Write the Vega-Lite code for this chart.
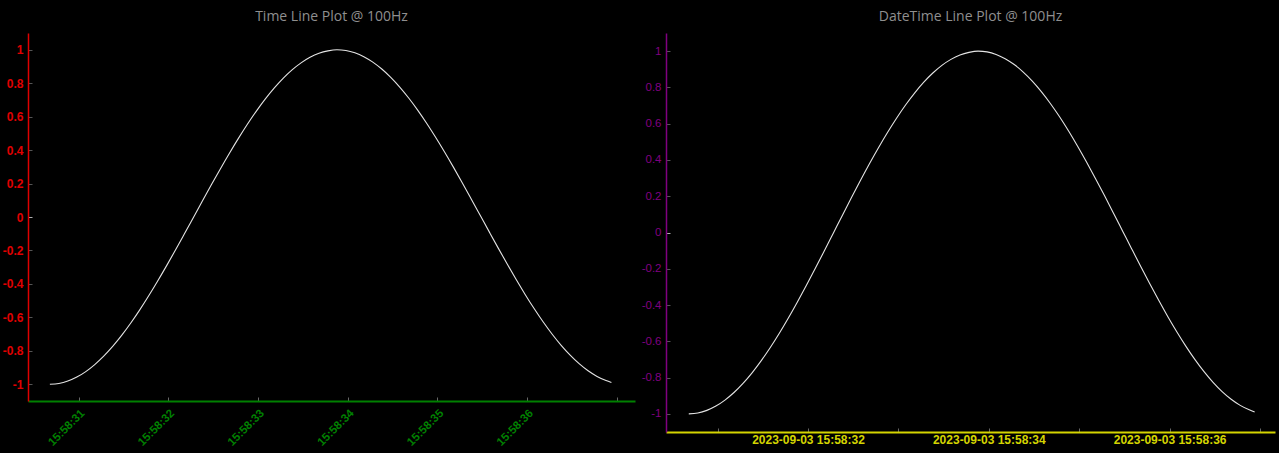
{
  "$schema": "https://vega.github.io/schema/vega-lite/v6.json",
  "background": "black",
  "padding": {"left": 2, "top": 10, "right": 4, "bottom": 5},
  "spacing": 6,
  "config": {
    "view": {"stroke": null},
    "font": "Liberation Sans",
    "title": {"color": "#8f8f8f", "fontSize": 14, "fontWeight": "normal", "font": "Open Sans", "offset": 9, "anchor": "middle"}
  },
  "datasets": {
    "wave": [
      {"time": "2023-09-03T15:58:30.681", "value": -1.0},
      {"time": "2023-09-03T15:58:30.781", "value": -0.9952},
      {"time": "2023-09-03T15:58:30.881", "value": -0.9808},
      {"time": "2023-09-03T15:58:30.981", "value": -0.9571},
      {"time": "2023-09-03T15:58:31.081", "value": -0.9241},
      {"time": "2023-09-03T15:58:31.181", "value": -0.8823},
      {"time": "2023-09-03T15:58:31.281", "value": -0.832},
      {"time": "2023-09-03T15:58:31.381", "value": -0.7737},
      {"time": "2023-09-03T15:58:31.481", "value": -0.708},
      {"time": "2023-09-03T15:58:31.581", "value": -0.6354},
      {"time": "2023-09-03T15:58:31.681", "value": -0.5567},
      {"time": "2023-09-03T15:58:31.781", "value": -0.4726},
      {"time": "2023-09-03T15:58:31.881", "value": -0.3841},
      {"time": "2023-09-03T15:58:31.981", "value": -0.2921},
      {"time": "2023-09-03T15:58:32.081", "value": -0.1974},
      {"time": "2023-09-03T15:58:32.181", "value": -0.1003},
      {"time": "2023-09-03T15:58:32.281", "value": -0.0025},
      {"time": "2023-09-03T15:58:32.381", "value": 0.0954},
      {"time": "2023-09-03T15:58:32.481", "value": 0.1924},
      {"time": "2023-09-03T15:58:32.581", "value": 0.2875},
      {"time": "2023-09-03T15:58:32.681", "value": 0.3799},
      {"time": "2023-09-03T15:58:32.781", "value": 0.4686},
      {"time": "2023-09-03T15:58:32.881", "value": 0.5527},
      {"time": "2023-09-03T15:58:32.981", "value": 0.6315},
      {"time": "2023-09-03T15:58:33.081", "value": 0.7043},
      {"time": "2023-09-03T15:58:33.181", "value": 0.7702},
      {"time": "2023-09-03T15:58:33.281", "value": 0.8288},
      {"time": "2023-09-03T15:58:33.381", "value": 0.8793},
      {"time": "2023-09-03T15:58:33.481", "value": 0.9214},
      {"time": "2023-09-03T15:58:33.581", "value": 0.9546},
      {"time": "2023-09-03T15:58:33.681", "value": 0.9786},
      {"time": "2023-09-03T15:58:33.781", "value": 0.9931},
      {"time": "2023-09-03T15:58:33.881", "value": 1.0},
      {"time": "2023-09-03T15:58:33.981", "value": 0.9957},
      {"time": "2023-09-03T15:58:34.081", "value": 0.9818},
      {"time": "2023-09-03T15:58:34.181", "value": 0.9585},
      {"time": "2023-09-03T15:58:34.281", "value": 0.926},
      {"time": "2023-09-03T15:58:34.381", "value": 0.8846},
      {"time": "2023-09-03T15:58:34.481", "value": 0.8347},
      {"time": "2023-09-03T15:58:34.581", "value": 0.7768},
      {"time": "2023-09-03T15:58:34.681", "value": 0.7114},
      {"time": "2023-09-03T15:58:34.781", "value": 0.6393},
      {"time": "2023-09-03T15:58:34.881", "value": 0.5608},
      {"time": "2023-09-03T15:58:34.981", "value": 0.477},
      {"time": "2023-09-03T15:58:35.081", "value": 0.3887},
      {"time": "2023-09-03T15:58:35.181", "value": 0.2968},
      {"time": "2023-09-03T15:58:35.281", "value": 0.2022},
      {"time": "2023-09-03T15:58:35.381", "value": 0.1052},
      {"time": "2023-09-03T15:58:35.481", "value": 0.0074},
      {"time": "2023-09-03T15:58:35.581", "value": -0.0905},
      {"time": "2023-09-03T15:58:35.681", "value": -0.1876},
      {"time": "2023-09-03T15:58:35.781", "value": -0.2828},
      {"time": "2023-09-03T15:58:35.881", "value": -0.3753},
      {"time": "2023-09-03T15:58:35.981", "value": -0.4643},
      {"time": "2023-09-03T15:58:36.081", "value": -0.5486},
      {"time": "2023-09-03T15:58:36.181", "value": -0.6278},
      {"time": "2023-09-03T15:58:36.281", "value": -0.7008},
      {"time": "2023-09-03T15:58:36.381", "value": -0.7671},
      {"time": "2023-09-03T15:58:36.481", "value": -0.826},
      {"time": "2023-09-03T15:58:36.581", "value": -0.877},
      {"time": "2023-09-03T15:58:36.681", "value": -0.9195},
      {"time": "2023-09-03T15:58:36.781", "value": -0.9531},
      {"time": "2023-09-03T15:58:36.881", "value": -0.9776},
      {"time": "2023-09-03T15:58:36.941", "value": -0.9892}
    ]
  },
  "hconcat": [
    {
      "width": 607,
      "height": 368,
      "title": {"text": "Time Line Plot @ 100Hz"},
      "data": {"name": "wave"},
      "mark": {"type": "line", "color": "#e4e4e4", "strokeWidth": 1.1, "interpolate": "monotone", "clip": true},
      "encoding": {
        "x": {
          "field": "time", "type": "temporal",
          "scale": {"domain": ["2023-09-03T15:58:30.437", "2023-09-03T15:58:37.204"]},
          "axis": {
            "title": null, "grid": false,
            "values": ["2023-09-03T15:58:31", "2023-09-03T15:58:32", "2023-09-03T15:58:33", "2023-09-03T15:58:34", "2023-09-03T15:58:35", "2023-09-03T15:58:36", "2023-09-03T15:58:37"],
            "domainColor": "#008000", "domainWidth": 2,
            "tickColor": "#666666", "tickSize": -4, "tickWidth": 1,
            "labelColor": "#008000", "labelFontSize": 11.5, "labelFontWeight": "bold", "labelAngle": -45,
            "labelAlign": "right", "labelBaseline": "top", "labelPadding": 10,
            "labelOverlap": false, "labelFlush": false,
            "format": "%H:%M:%S",
            "labelExpr": "seconds(datum.value) >= 37 ? '' : datum.label"
          }
        },
        "y": {
          "field": "value", "type": "quantitative",
          "scale": {"domain": [-1.1, 1.1], "nice": false, "zero": false},
          "axis": {
            "title": null, "grid": false,
            "values": [-1, -0.8, -0.6, -0.4, -0.2, 0, 0.2, 0.4, 0.6, 0.8, 1],
            "domainColor": "#e00000", "domainWidth": 1.5,
            "tickColor": {"condition": {"test": "datum.value == 0", "value": "#b0b0b0"}, "value": "#555555"},
            "tickSize": -4, "tickWidth": 1,
            "labelColor": "#e00000", "labelFontSize": 12, "labelFontWeight": "bold", "labelPadding": 9,
            "labelExpr": "'' + datum.value"
          }
        }
      }
    },
    {
      "width": 609,
      "height": 399,
      "title": {"text": "DateTime Line Plot @ 100Hz"},
      "data": {"name": "wave"},
      "mark": {"type": "line", "color": "#e4e4e4", "strokeWidth": 1.1, "interpolate": "monotone", "clip": true},
      "encoding": {
        "x": {
          "field": "time", "type": "temporal",
          "scale": {"domain": ["2023-09-03T15:58:30.429", "2023-09-03T15:58:37.166"]},
          "axis": {
            "title": null, "grid": false,
            "values": ["2023-09-03T15:58:31", "2023-09-03T15:58:32", "2023-09-03T15:58:33", "2023-09-03T15:58:34", "2023-09-03T15:58:35", "2023-09-03T15:58:36", "2023-09-03T15:58:37"],
            "domainColor": "#d4d400", "domainWidth": 2,
            "tickColor": "#666666", "tickSize": -4, "tickWidth": 1,
            "labelColor": "#d4d400", "labelFontSize": 12, "labelFontWeight": "bold", "labelPadding": 6,
            "labelOverlap": false, "labelFlush": false,
            "format": "%Y-%m-%d %H:%M:%S",
            "labelExpr": "(seconds(datum.value) % 2 == 0 && seconds(datum.value) < 37) ? datum.label : ''"
          }
        },
        "y": {
          "field": "value", "type": "quantitative",
          "scale": {"domain": [-1.1, 1.1], "nice": false, "zero": false},
          "axis": {
            "title": null, "grid": false,
            "values": [-1, -0.8, -0.6, -0.4, -0.2, 0, 0.2, 0.4, 0.6, 0.8, 1],
            "domainColor": "#800080", "domainWidth": 1.5,
            "tickColor": {"condition": {"test": "datum.value == 0", "value": "#b0b0b0"}, "value": "#555555"},
            "tickSize": -4, "tickWidth": 1,
            "labelColor": "#800080", "labelFontSize": 11.5, "labelPadding": 9,
            "labelExpr": "'' + datum.value"
          }
        }
      }
    }
  ]
}
